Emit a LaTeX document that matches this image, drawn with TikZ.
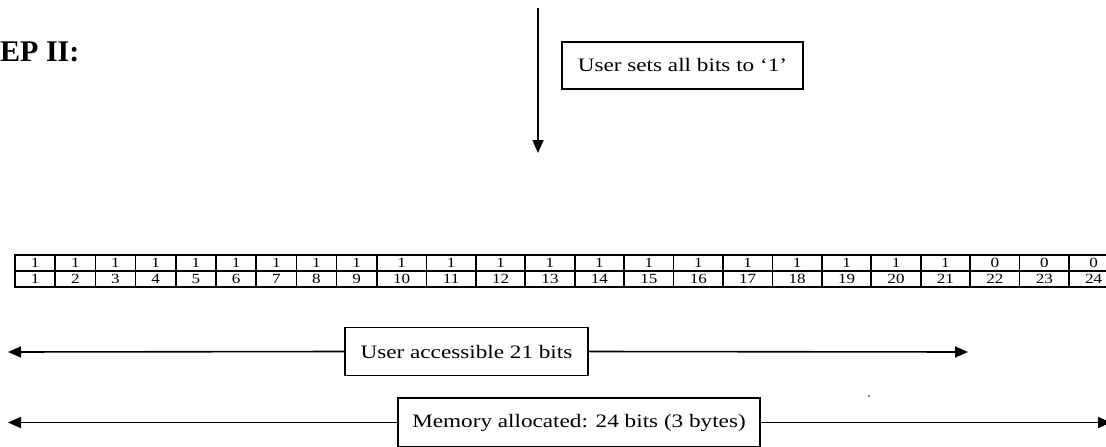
\documentclass[tikz,border=0pt]{standalone}
\usepackage{fontspec}
\setmainfont{Liberation Serif}
\newfontfamily\widefont{Liberation Serif}[FakeStretch=1.22]
\usetikzlibrary{arrows.meta}
\tikzset{
    labelbox/.style = {draw, line width=1.5pt, inner sep=0pt, font=\widefont\fontsize{19}{22}\selectfont},
    bitcell/.style  = {draw, line width=1.7pt, inner sep=0pt, minimum height=16pt, font=\widefont\fontsize{14}{15}\selectfont},
    span/.style     = {line width=1.6pt, -{Triangle[length=13pt,width=11pt]}},
}
\begin{document}
\begin{tikzpicture}[x=1pt, y=-1pt]
    \useasboundingbox (0,0) rectangle (1106,447);

    \node[anchor=west, inner sep=0pt, font=\bfseries\fontsize{30}{34}\selectfont] (steplabel) at (0,52) {EP II:};

    \coordinate (flowtop) at (538,8);
    \coordinate (flowend) at (538,153);
    \draw[span] (flowtop) -- (flowend);
    \node[labelbox, minimum width=241pt, minimum height=47pt] (setbox) at (682.5,65.5) {User sets all bits to ‘1’};

    \foreach \i in {1,...,9} {
        \node[bitcell, minimum width=40.2pt] (bit\i) at ({15+(\i-0.5)*40.2},263) {1};
        \node[bitcell, minimum width=40.2pt] (idx\i) at ({15+(\i-0.5)*40.2},279) {\i};
    }
    \foreach \i in {10,...,24} {
        \node[bitcell, minimum width=49.43pt] (bit\i) at ({377+(\i-9.5)*49.43},263) {\ifnum\i<22 1\else 0\fi};
        \node[bitcell, minimum width=49.43pt] (idx\i) at ({377+(\i-9.5)*49.43},279) {\i};
    }

    \node[labelbox, minimum width=243pt, minimum height=48pt] (userbox) at (466.5,351.5) {User accessible 21 bits};
    \coordinate (userleft) at (8,352);
    \coordinate (userright) at (968,352);
    \draw[span] (userbox.west) -- (userleft);
    \draw[span] (userbox.east) -- (userright);

    \node[labelbox, minimum width=362pt, minimum height=49pt] (membox) at (579,422.5) {Memory allocated: 24 bits (3 bytes)};
    \coordinate (memleft) at (8,422.5);
    \coordinate (memright) at (1111,422.5);
    \draw[span] (membox.west) -- (memleft);
    \draw[span] (membox.east) -- (memright);

    \fill (869,396) circle (0.8);
\end{tikzpicture}
\end{document}
